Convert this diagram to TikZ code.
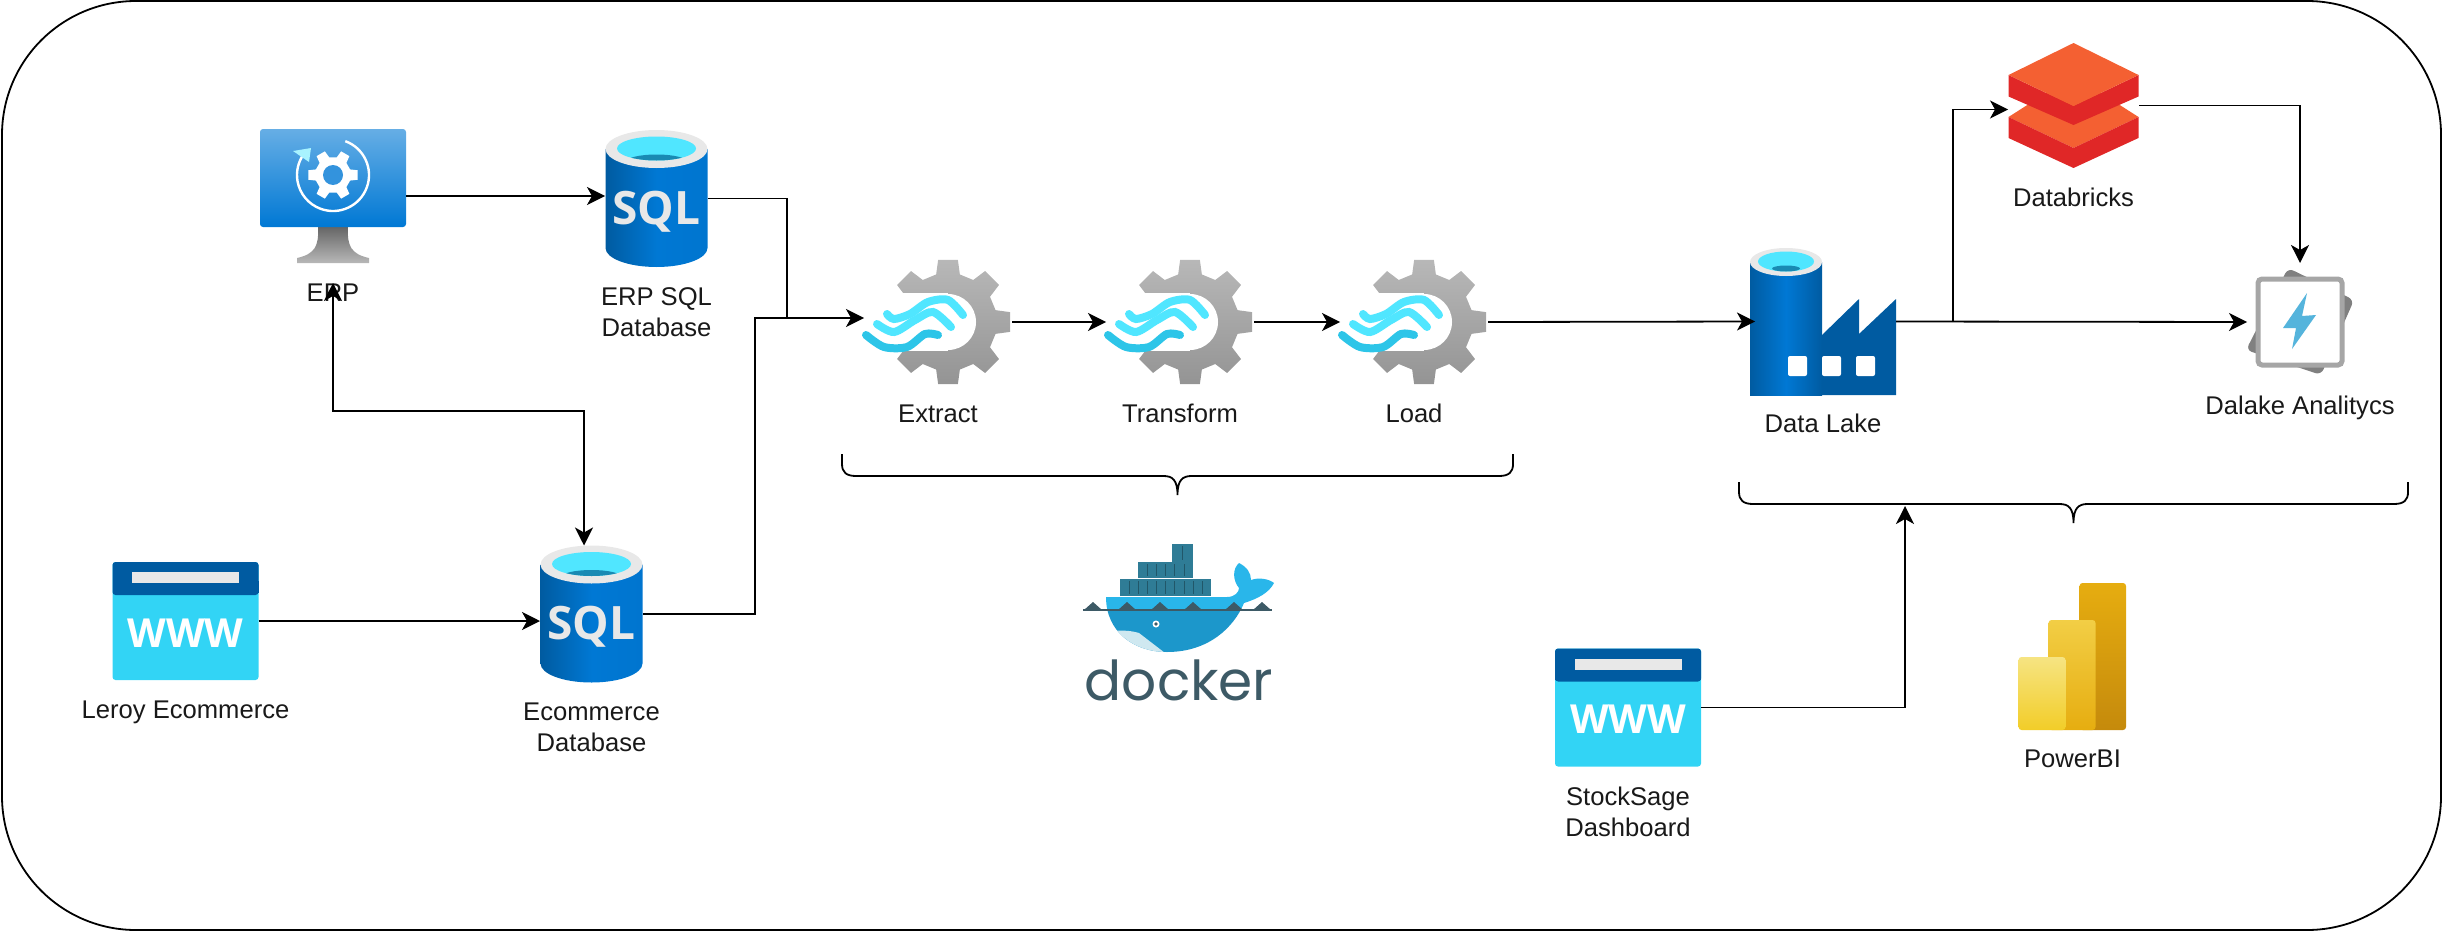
\documentclass[tikz,border=0pt]{standalone}
\usepackage{fontspec}
\setmainfont{Liberation Sans}
\newfontfamily\iconfont{Open Sans}
\newfontfamily\dockerfont{Poppins}
\usetikzlibrary{positioning, arrows.meta}
\definecolor{azdark}{HTML}{005BA1}
\definecolor{azmid}{HTML}{0078D4}
\definecolor{azsky}{HTML}{32D4F5}
\definecolor{azwater}{HTML}{50E6FF}
\definecolor{azdeep}{HTML}{198AB3}
\definecolor{rimgrey}{HTML}{E8E8E8}
\definecolor{brickorange}{HTML}{F46032}
\definecolor{brickred}{HTML}{E02727}
\definecolor{whaleteal}{HTML}{2F7C96}
\definecolor{whaletop}{HTML}{29B6EA}
\definecolor{whalelow}{HTML}{1C97CB}
\definecolor{whalebelly}{HTML}{CFE8F0}
\definecolor{dockerink}{HTML}{3D5A66}
\definecolor{boltblue}{HTML}{55B4DC}
\tikzset{
    canbox/.style={minimum width=51.5pt, minimum height=68.5pt, inner sep=0pt, outer sep=0pt},
    webbox/.style={minimum width=73pt, minimum height=59pt, inner sep=0pt, outer sep=0pt},
    gearbox/.style={minimum width=74pt, minimum height=63pt, inner sep=0pt, outer sep=0pt},
    iconbox/.style={inner sep=0pt, outer sep=0pt},
    caption/.style={font=\fontsize{12.8}{15.5}\selectfont, align=center, inner sep=0pt, text=black!90},
    flow/.style={line width=0.9pt},
    pics/curly/.style={code={
        \draw [flow] (-#1,-22) -- (-#1,-12) .. controls (-#1,-4) and (-#1+4,0) .. (-#1+14,0) -- (-14,0) .. controls (-5,0) and (0,4) .. (0,19) .. controls (0,4) and (5,0) .. (14,0) -- (#1-14,0) .. controls (#1-4,0) and (#1,-4) .. (#1,-12) -- (#1,-22);
    }},
    sqlcan/.pic={
        \shade [left color=azdark, right color=azmid!90!azdark, middle color=azmid] (-51,-49.5) -- (-51,49.5) arc[start angle=180, end angle=0, x radius=51, y radius=19] -- (51,-49.5) -- cycle;
        \fill [rimgrey] (0,-49.5) ellipse [x radius=51, y radius=19];
        \fill [azwater] (0,-50) ellipse [x radius=39.5, y radius=12];
        \begin{scope}
            \clip (0,-50) ellipse [x radius=39.5, y radius=12];
            \fill [azdeep] (0,-37) ellipse [x radius=30, y radius=7];
        \end{scope}
        \node (sqltext) [text=rimgrey, inner sep=0pt, font=\iconfont\bfseries\fontsize{23}{23}\selectfont] at (0,13) {SQL};
    },
    webpage/.pic={
        \fill [azsky, rounded corners=1.5pt] (-73,-59) rectangle (73,59);
        \fill [azdark, rounded corners=1.5pt] (-73,-59) rectangle (73,-26);
        \fill [azdark] (-73,-40) rectangle (73,-28);
        \fill [rimgrey] (-53.5,-49) rectangle (53.5,-38);
        \node (wwwtext) [text=white, inner sep=0pt, font=\iconfont\bfseries\fontsize{20}{20}\selectfont] at (0,12) {WWW};
    },
    etlgear/.pic={
        \path [top color=black!28, bottom color=black!42] (-9:63) \foreach \a in {0,45,...,315} {-- (\a-9:63) -- (\a+9:63) -- (\a+14:49) -- (\a+31:49)} -- cycle;
        \fill [white] (0,0) circle [radius=28];
        \fill [white] (-85,-29) rectangle (0,29);
        \draw [azwater, line width=4pt, line cap=round] plot[smooth] coordinates {(-61,-8) (-54,-3) (-38,-8) (-20,-20) (0,-22) (15,-7)};
        \draw [azwater, line width=4pt, line cap=round] plot[smooth] coordinates {(-71,2) (-54,10) (-33,-2) (-15,-10) (3,5)};
        \draw [azsky!80!azdeep, line width=4pt, line cap=round] plot[smooth] coordinates {(-82,13) (-64,25) (-41,25) (-23,12) (-10,13)};
    },
    vmscreen/.pic={
        \path [top color=black!60, bottom color=black!28] (-15,31) .. controls (-14,50) and (-18,58) .. (-36,62) -- (-36,67) -- (36,67) -- (36,62) .. controls (18,58) and (14,50) .. (15,31) -- cycle;
        \path [top color=azmid!60!white, bottom color=azmid, rounded corners=1.5pt] (-73,-67) rectangle (73,31);
        \begin{scope}[shift={(0,-21)}]
            \fill [white] (-11:25) \foreach \a in {0,60,...,300} {-- (\a-11:25) -- (\a+11:25) -- (\a+18:18) -- (\a+42:18)} -- cycle;
            \fill [azmid!80!white] (0,0) circle [radius=10];
            \draw [white, line width=1.2pt] (-70:36) arc [start angle=-70, end angle=215, radius=36];
        \end{scope}
        \fill [azwater!50!white] (-40,-45) -- (-22,-48) -- (-24,-34) -- cycle;
    },
    lakefactory/.pic={
        \shade [left color=azdark, right color=azdark, middle color=azmid] (-73,-59.5) rectangle (-1,73.5);
        \fill [azdark] (-1,13.5) -- (36,-22.5) -- (36,12.5) -- (73,-22.5) -- (73,73.5) -- (-1,73.5) -- cycle;
        \fill [rimgrey] (-37,-59.5) ellipse [x radius=36, y radius=14];
        \fill [azwater] (-37,-60) ellipse [x radius=28, y radius=10];
        \fill [azdeep] (-37,-53) ellipse [x radius=14, y radius=3];
        \foreach \wx in {-35,-1,33} {\fill [white, rounded corners=1pt] (\wx,34.5) rectangle ++(19,20);}
    },
    brickstack/.pic={
        \fill [brickorange] (-65,11.5) -- (0,-30) -- (65,11.5) -- (0,42.5) -- cycle;
        \fill [brickred] (-65,11.5) -- (-65,32.5) -- (0,62.5) -- (65,32.5) -- (65,11.5) -- (0,42.5) -- cycle;
        \fill [brickred] (-65,-30.5) -- (-65,-9) -- (0,19.5) -- (65,-9) -- (65,-30.5) -- (0,0.5) -- cycle;
        \fill [brickorange] (0,-62.5) -- (-65,-30.5) -- (0,0.5) -- (65,-30.5) -- cycle;
    },
    boltpanel/.pic={
        \fill [black!50, rounded corners=3pt] (-12,-54) -- (54,-22) -- (21,53) -- (-54,28) -- cycle;
        \draw [black!35, fill=white, line width=2.5pt, rounded corners=2pt] (-42,-43) rectangle (42,43);
        \fill [boltblue] (7,-29) -- (-17,6) -- (-4,6) -- (-8,27) -- (16,-7) -- (2,-6) -- cycle;
    },
    barchart/.pic={
        \path [top color={rgb,255:red,230;green,173;blue,16}, bottom color={rgb,255:red,197;green,138;blue,12}, rounded corners=1.5pt] (7,-73.5) rectangle (53.5,73.5);
        \path [top color={rgb,255:red,242;green,206;blue,69}, bottom color={rgb,255:red,230;green,173;blue,16}, rounded corners=1.5pt] (-24,-36.5) rectangle (23,73.5);
        \path [top color={rgb,255:red,246;green,228;blue,130}, bottom color={rgb,255:red,242;green,205;blue,40}, rounded corners=1.5pt] (-54,0.5) rectangle (-7,73.5);
    },
    dockerwhale/.pic={
        \fill [whaleteal] (-7,-53) rectangle (14,-35);
        \fill [whaleteal] (-41,-35) rectangle (14,-19);
        \fill [whaleteal] (-59,-18) rectangle (32,-1);
        \foreach \cx in {-50,-41,-32,-23,-14,-5,5,14,23} {\draw [whaleteal!70!black, line width=0.4pt] (\cx,-16) -- (\cx,-3);}
        \foreach \cx in {-32,-23,-14,-5,5} {\draw [whaleteal!70!black, line width=0.4pt] (\cx,-33) -- (\cx,-21);}
        \draw [whaleteal!70!black, line width=0.4pt] (3,-51) -- (3,-37);
        \begin{scope}
            \path [clip] (-73,0) -- (48,0) .. controls (56,0) and (60,-5) .. (60,-9) .. controls (54,-16) and (53,-28) .. (60,-34) .. controls (68,-30) and (72,-24) .. (72,-17) .. controls (80,-20) and (90,-18) .. (95,-14) .. controls (90,-4) and (78,2) .. (65,6) .. controls (55,30) and (30,55) .. (-12,55) .. controls (-45,55) and (-73,35) .. (-73,0) -- cycle;
            \fill [whaletop] (-80,-40) rectangle (100,13);
            \fill [whalelow] (-80,13) rectangle (100,60);
            \fill [whalebelly] (-75,35) .. controls (-60,33) and (-50,33) .. (-40,36) -- (-14,56) -- (-60,56) -- cycle;
        \end{scope}
        \foreach \sx in {-86,-52,-19,14,55,83} {\fill [dockerink] (\sx-9,13) -- (\sx,5) -- (\sx+9,13) -- cycle;}
        \draw [dockerink, line width=0.7pt] (-96,13) -- (93,13);
        \fill [white] (-23,27) circle [radius=3.5];
        \fill [dockerink] (-23,27) circle [radius=1.8];
    },
}
\begin{document}
\begin{tikzpicture}[x=0.5pt, y=-0.5pt, >={Stealth[length=9pt, width=9pt, inset=2.5pt]}]
    \useasboundingbox (0,0) rectangle (2444,931);
    \node (frame)     [draw, rounded corners=67pt, line width=0.9pt, minimum width=1219.5pt, minimum height=464.5pt] at (1221.5,465.5) {};

    \node (erp)       [iconbox, minimum width=73pt, minimum height=67pt] at (333,196) {};
    \node (sqlerp)    [canbox] at (656.5,198.5) {};
    \node (leroy)     [webbox] at (185.5,621) {};
    \node (sqlecom)   [canbox] at (591.5,614) {};
    \node (extract)   [gearbox] at (938,322) {};
    \node (transform) [gearbox, right=47pt of extract] {};
    \node (load)      [gearbox, right=43pt of transform] {};
    \node (docker)    [iconbox, minimum width=96pt, minimum height=54.5pt] at (1179,597) {};
    \node (datalake)  [iconbox, minimum width=73pt, minimum height=73.5pt] at (1823,321.5) {};
    \node (databricks)[iconbox, minimum width=65.5pt, minimum height=62.5pt] at (2073.5,105.5) {};
    \node (analytics) [iconbox, minimum width=53pt, minimum height=59pt] at (2300,322) {};
    \node (stocksage) [webbox] at (1628,707.5) {};
    \node (powerbi)   [iconbox, minimum width=53.5pt, minimum height=73.5pt] at (2072.5,656.5) {};

    \pic at (erp) {vmscreen};
    \pic at (sqlerp) {sqlcan};
    \pic at (leroy) {webpage};
    \pic at (sqlecom) {sqlcan};
    \pic at ([xshift=5pt]extract.center) {etlgear};
    \pic at ([xshift=5pt]transform.center) {etlgear};
    \pic at ([xshift=5pt]load.center) {etlgear};
    \pic at (docker) {dockerwhale};
    \pic at (datalake) {lakefactory};
    \pic at (databricks) {brickstack};
    \pic at (analytics) {boltpanel};
    \pic at (stocksage) {webpage};
    \pic at (powerbi) {barchart};

    \node (erplabel)       [caption, below=10pt of erp]       {ERP};
    \node (sqlerplabel)    [caption, below=10pt of sqlerp]    {ERP SQL\\Database};
    \node (leroylabel)     [caption, below=10pt of leroy]     {Leroy Ecommerce};
    \node (sqlecomlabel)   [caption, below=10pt of sqlecom]   {Ecommerce\\Database};
    \node (extractlabel)   [caption, below=9.5pt of extract]   {Extract};
    \node (transformlabel) [caption, below=9.5pt of transform] {Transform};
    \node (loadlabel)      [caption, below=9.5pt of load]      {Load};
    \node (dockerlabel)    [inner sep=0pt, text=dockerink, font=\dockerfont\fontsize{27.5}{27.5}\selectfont, below=4pt of docker] {docker};
    \node (datalakelabel)  [caption, below=9.5pt of datalake]  {Data Lake};
    \node (databrickslabel)[caption, below=10pt of databricks]  {Databricks};
    \node (analyticslabel) [caption, below=7.5pt of analytics] {Dalake Analitycs};
    \node (stocksagelabel) [caption, below=10pt of stocksage]   {StockSage\\Dashboard};
    \node (powerbilabel)   [caption, below=9.5pt of powerbi]   {PowerBI};

    \coordinate (joinetl)  at (787,318);
    \coordinate (joinecom) at (755,318);
    \coordinate (turnecom) at (584,411);
    \coordinate (branch)   at (1953,322);
    \coordinate (etlbrace) at (1177.5,476);
    \coordinate (bibrace)  at (2073.5,504);
    \coordinate (bitarget) at (1905,506);

    \draw [flow, ->] (erp.east) -- (sqlerp.west|-erp.east);
    \draw [flow, ->] (leroy.east) -- (sqlecom.west|-leroy.east);
    \draw [flow, <->] (erplabel.north) |- (turnecom) -- (turnecom|-sqlecom.north);
    \draw [flow] (sqlerp.east) -| (joinetl);
    \draw [flow] (sqlecom.east) -| (joinecom) -- (joinetl);
    \draw [flow, ->] (joinetl) -- ([yshift=2pt]extract.west);
    \draw [flow, ->] (extract.east) -- (transform.west);
    \draw [flow, ->] (transform.east) -- (load.west);
    \draw [flow, ->] (load.east) -- ([xshift=2.5pt]datalake.west);
    \draw [flow, ->] (datalake.east) -- (analytics.west);
    \draw [flow, ->] (branch) |- ([yshift=-2pt]databricks.west);
    \draw [flow, ->] (databricks.east) -| (analytics.north);
    \draw [flow, ->] (stocksage.east) -| (bitarget);
    \pic at (etlbrace) {curly=335.5};
    \pic at (bibrace) {curly=334.5};
\end{tikzpicture}
\end{document}
